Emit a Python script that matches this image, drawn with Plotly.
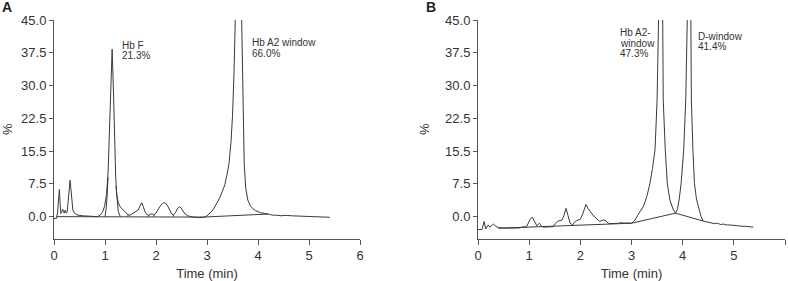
import plotly.graph_objects as go

# ---------------- data ----------------
# Panel A chromatogram
a_t = [0.00, 0.05, 0.07, 0.09, 0.105, 0.12, 0.135, 0.15, 0.17, 0.185, 0.20, 0.22, 0.24, 0.26, 0.28, 0.30, 0.315,
       0.33, 0.35, 0.37, 0.40, 0.45, 0.55, 0.70, 0.85, 0.90, 0.95, 0.99, 1.03, 1.06, 1.09, 1.115, 1.14, 1.165,
       1.19, 1.21, 1.23, 1.26, 1.30, 1.35, 1.40, 1.45, 1.49, 1.55, 1.60, 1.65, 1.69, 1.72, 1.75, 1.78, 1.82,
       1.86, 1.90, 1.93, 1.96, 2.00, 2.05, 2.10, 2.15, 2.19, 2.23, 2.27, 2.31, 2.34, 2.38, 2.42, 2.46, 2.49,
       2.52, 2.57, 2.62, 2.67, 2.75, 2.85, 2.92, 2.95, 3.00, 3.05, 3.10, 3.15, 3.20, 3.25, 3.30, 3.35, 3.39,
       3.43, 3.47, 3.50, 3.53, 3.55, 3.615, 3.68, 3.70, 3.71, 3.73, 3.76, 3.80, 3.85, 3.90, 3.95, 4.00, 4.05,
       4.10, 4.15, 4.20, 4.25, 4.30, 4.35, 4.45, 4.55, 4.65, 4.75, 4.85, 4.95, 5.05, 5.15, 5.25, 5.35, 5.41]
a_v = [-0.4, -0.4, 1.0, 5.0, 6.2, 3.0, 0.7, 1.0, 1.7, 1.2, 0.8, 1.5, 0.8, 1.2, 4.5, 7.8, 8.3,
       6.5, 3.0, 1.5, 0.8, 0.4, 0.2, 0.05, 0.0, 0.3, 1.0, 2.3, 5.0, 10.0, 19.0, 30.0, 38.3, 29.0,
       17.0, 9.0, 5.0, 3.2, 2.2, 1.5, 1.0, 0.5, 0.3, 0.8, 1.1, 1.5, 2.5, 3.2, 2.4, 1.2, 0.5,
       0.3, 0.6, 0.6, 0.4, 0.8, 1.8, 2.7, 3.2, 3.1, 2.4, 1.4, 0.6, 0.4, 0.9, 1.8, 2.3, 2.0,
       1.5, 0.6, 0.2, 0.0, -0.15, -0.2, -0.15, -0.1, 0.2, 0.7, 1.3, 2.2, 3.2, 4.3, 5.8, 7.3, 9.5,
       12.0, 17.0, 23.0, 33.0, 45.0, 75.0, 45.0, 30.0, 23.0, 12.0, 6.5, 3.8, 2.5, 1.8, 1.4, 1.1, 0.9,
       0.8, 0.7, 0.7, 0.45, 0.3, 0.35, 0.2, 0.3, 0.2, 0.15, 0.25, 0.1, 0.0, 0.05, -0.05, -0.1, -0.15]

# Panel A fitted Hb F peak edges
a_fit_t = [1.00, 1.02, 1.04, 1.06, None, 1.215, 1.235, 1.26, 1.30]
a_fit_v = [0.0, 1.5, 4.5, 9.0, None, 7.0, 3.5, 1.2, 0.0]

# Panel A integration baseline and drop lines
a_base_t = [0.05, 2.93, 4.20, None, 1.45, 1.45, None, 1.86, 1.86, None, 1.96, 1.96, None, 2.34, 2.34]
a_base_v = [0.0, -0.1, 0.6, None, 0.0, 0.5, None, 0.0, 0.3, None, 0.0, 0.4, None, 0.0, 0.4]

# Panel B chromatogram
b_t = [0.00, 0.08, 0.12, 0.15, 0.20, 0.23, 0.27, 0.30, 0.35, 0.40, 0.50, 0.60, 0.70, 0.80, 0.86, 0.90,
       0.94, 0.98, 1.02, 1.06, 1.10, 1.15, 1.20, 1.25, 1.30, 1.40, 1.47, 1.51, 1.55, 1.60, 1.64, 1.68,
       1.72, 1.76, 1.80, 1.85, 1.89, 1.93, 1.97, 2.00, 2.04, 2.08, 2.11, 2.15, 2.19, 2.23, 2.28, 2.33,
       2.38, 2.42, 2.46, 2.50, 2.55, 2.60, 2.66, 2.72, 2.76, 2.80, 2.85, 2.90, 2.96, 3.00, 3.04, 3.07,
       3.12, 3.17, 3.23, 3.30, 3.36, 3.41, 3.46, 3.50, 3.54, 3.575, 3.61, 3.62, 3.66, 3.70, 3.75, 3.82,
       3.86, 3.90, 3.93, 3.97, 4.02, 4.06, 4.09, 4.125, 4.16, 4.17, 4.20, 4.23, 4.27, 4.31, 4.36, 4.40,
       4.45, 4.50, 4.56, 4.62, 4.68, 4.74, 4.80, 4.86, 4.92, 4.98, 5.04, 5.10, 5.16, 5.22, 5.28, 5.33, 5.38]
b_v = [-3.0, -2.9, -1.1, -2.8, -1.9, -2.4, -2.0, -1.7, -2.2, -2.5, -2.6, -2.65, -2.6, -2.6, -2.4, -2.3,
       -2.5, -1.6, -0.6, -0.1, -1.0, -2.1, -1.5, -2.3, -2.4, -2.35, -2.3, -1.6, -1.1, -0.9, -0.8, 0.3,
       1.9, 0.2, -1.5, -1.9, -1.2, -0.9, -0.8, -0.6, 0.4, 2.0, 2.8, 1.9, 1.1, 0.6, -0.1, -0.6,
       -1.1, -0.9, -0.75, -1.0, -1.5, -1.6, -1.6, -1.45, -1.5, -1.35, -1.5, -1.45, -1.5, -1.5, -1.1, -0.75,
       0.3, 1.2, 2.3, 4.6, 7.6, 11.0, 15.3, 26.7, 45.0, 75.0, 45.0, 26.7, 15.3, 7.6, 3.8, 1.5,
       0.8, 1.8, 3.8, 7.6, 15.3, 26.7, 45.0, 75.0, 45.0, 26.7, 15.3, 7.6, 4.0, 2.3, 0.0, -1.0,
       -1.1, -1.3, -1.4, -1.6, -1.5, -1.8, -1.7, -1.9, -1.9, -2.0, -2.0, -2.1, -2.2, -2.2, -2.3, -2.3, -2.4]

# Panel B integration baseline
b_base_t = [0.40, 3.00, 3.86, 4.40]
b_base_v = [-2.65, -1.5, 0.8, -1.0]

y_tickvals = [0, 7.5, 15, 22.5, 30, 37.5, 45]
y_ticktext = ["0.0", "7.5", "15.5", "22.5", "30.0", "37.5", "45.0"]
x_tickvals = [0, 1, 2, 3, 4, 5, 6]

# ---------------- figure ----------------
LINE = "#3a3a3a"
AXIS = "#555555"
TEXT = "#333333"
FONT = "Liberation Sans, Arial, sans-serif"

fig = go.Figure()
for xs, ys, ax in [(a_t, a_v, "x"), (a_fit_t, a_fit_v, "x"), (a_base_t, a_base_v, "x"),
                   (b_t, b_v, "x2"), (b_base_t, b_base_v, "x2")]:
    fig.add_trace(go.Scatter(x=xs, y=ys, mode="lines", xaxis=ax, yaxis="y" if ax == "x" else "y2",
                             line=dict(color=LINE, width=1), connectgaps=False,
                             hoverinfo="skip", showlegend=False))

ydom = [1 - 238.5 / 281, 1 - 20 / 281]
common_x = dict(range=[0, 6], tickvals=x_tickvals, showline=True, linecolor=AXIS, linewidth=1,
                ticks="outside", ticklen=5, tickcolor=AXIS, showgrid=False, zeroline=False,
                automargin=False,
                tickfont=dict(size=13, color=TEXT, family=FONT),
                title=dict(text="Time (min)", font=dict(size=13, color=TEXT, family=FONT), standoff=6))
common_y = dict(range=[-5, 45], tickvals=y_tickvals, ticktext=y_ticktext, showline=True, linecolor=AXIS,
                linewidth=1, ticks="outside", ticklen=4, tickcolor=AXIS, showgrid=False, zeroline=False,
                automargin=False,
                tickfont=dict(size=13, color=TEXT, family=FONT), domain=ydom,
                title=dict(text="%", font=dict(size=13, color=TEXT, family=FONT), standoff=12))

fig.update_layout(
    width=788, height=281, margin=dict(l=0, r=0, t=0, b=0, autoexpand=False),
    paper_bgcolor="white", plot_bgcolor="white",
    xaxis=dict(domain=[54 / 788, 360 / 788], anchor="y", **common_x),
    yaxis=dict(anchor="x", **common_y),
    xaxis2=dict(domain=[478 / 788, 785 / 788], anchor="y2", **common_x),
    yaxis2=dict(anchor="x2", **common_y),
    font=dict(family=FONT, color=TEXT),
)

def ann(text, xpx, ypx, size=10, bold=False):
    fig.add_annotation(text=("<b>%s</b>" % text) if bold else text, x=xpx / 788, y=1 - ypx / 281,
                       xref="paper", yref="paper", xanchor="left", yanchor="middle", showarrow=False,
                       font=dict(size=size, color=TEXT if not bold else "#222222", family=FONT))

ann("A", 0, 7.5, size=14, bold=True)
ann("B", 424, 7.5, size=14, bold=True)
ann("Hb F", 120, 45)
ann("21.3%", 120, 55.5)
ann("Hb A2 window", 250, 42.3)
ann("66.0%", 250, 53.3)
ann("Hb A2-", 618, 32.3)
ann("window", 618, 43.3)
ann("47.3%", 618, 53.8)
ann("D-window", 696, 36)
ann("41.4%", 696, 46.7)

fig.write_html("out.html", config={"displayModeBar": False, "staticPlot": True},
               post_script="document.body.style.margin='0';document.body.style.overflow='hidden';")
